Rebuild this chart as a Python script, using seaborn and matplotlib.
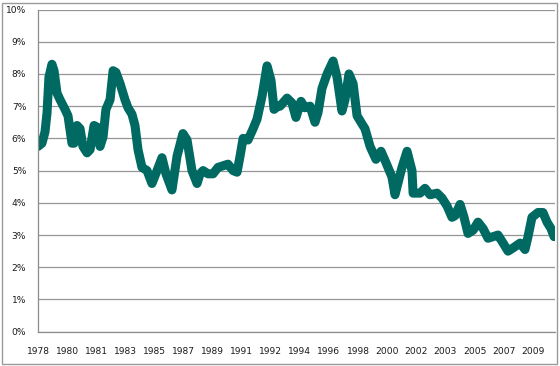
import numpy as np
import pandas as pd
import matplotlib
matplotlib.use("Agg")
import matplotlib.pyplot as plt
import seaborn as sns
from matplotlib.patches import Rectangle

# ---- data ----
years = [1978.17, 1978.42, 1978.61, 1978.74, 1978.86, 1979.05, 1979.18, 1979.37, 1979.56, 1979.87,
         1980.06, 1980.31, 1980.44, 1980.63, 1980.82, 1981.00, 1981.26, 1981.45, 1981.70, 1981.89,
         1982.08, 1982.27, 1982.45, 1982.71, 1982.90, 1983.08, 1983.34, 1983.65, 1983.84, 1984.09,
         1984.28, 1984.47, 1984.72, 1985.04, 1985.35, 1985.67, 1985.98, 1986.23, 1986.61, 1986.93,
         1987.30, 1987.56, 1987.87, 1988.19, 1988.38, 1988.57, 1988.88, 1989.20, 1989.51, 1989.83,
         1990.14, 1990.46, 1990.71, 1990.90, 1991.09, 1991.40, 1991.72, 1991.97, 1992.28, 1992.60,
         1992.85, 1993.04, 1993.29, 1993.42, 1993.86, 1994.17, 1994.42, 1994.74, 1994.99, 1995.31,
         1995.62, 1995.81, 1996.06, 1996.38, 1996.76, 1997.01, 1997.32, 1997.51, 1997.76, 1998.02,
         1998.27, 1998.58, 1998.77, 1999.09, 1999.46, 1999.78, 2000.09, 2000.47, 2000.66, 2001.10,
         2001.42, 2001.73, 2001.80, 2002.24, 2002.55, 2002.87, 2003.31, 2003.62, 2003.94, 2004.25,
         2004.44, 2004.76, 2005.01, 2005.26, 2005.58, 2005.89, 2006.21, 2006.52, 2006.84, 2007.15,
         2007.47, 2007.78, 2008.10, 2008.54, 2008.85, 2009.04, 2009.29, 2009.67, 2009.98, 2010.24,
         2010.49, 2010.68]
rates = [5.75, 5.85, 6.2, 6.8, 7.9, 8.3, 8.1, 7.4, 7.2, 6.9,
         6.7, 5.85, 5.85, 6.4, 6.3, 5.75, 5.55, 5.65, 6.4, 6.35,
         5.75, 6.05, 6.9, 7.2, 8.1, 8.05, 7.7, 7.2, 6.95, 6.75,
         6.4, 5.65, 5.1, 5.0, 4.6, 5.0, 5.4, 4.9, 4.4, 5.45,
         6.15, 5.95, 5.0, 4.6, 4.9, 5.0, 4.9, 4.9, 5.1, 5.15,
         5.2, 5.0, 4.95, 5.45, 6.0, 5.95, 6.3, 6.6, 7.3, 8.25,
         7.8, 6.9, 7.0, 7.0, 7.25, 7.1, 6.65, 7.15, 6.95, 7.0,
         6.5, 6.8, 7.55, 8.0, 8.4, 7.9, 6.85, 7.2, 8.0, 7.7,
         6.7, 6.45, 6.3, 5.75, 5.35, 5.6, 5.25, 4.8, 4.25, 5.1,
         5.6, 5.0, 4.3, 4.3, 4.45, 4.25, 4.3, 4.15, 3.9, 3.55,
         3.6, 3.95, 3.55, 3.05, 3.15, 3.4, 3.2, 2.9, 2.95, 3.0,
         2.75, 2.5, 2.6, 2.75, 2.55, 2.95, 3.55, 3.7, 3.7, 3.4,
         3.2, 2.95]
x_labels = ["1978", "1980", "1981", "1983", "1985", "1987", "1989", "1991", "1992",
            "1994", "1996", "1998", "2000", "2002", "2003", "2005", "2007", "2009"]
y_ticks = [0, 1, 2, 3, 4, 5, 6, 7, 8, 9, 10]

df = pd.DataFrame({"year": years, "rate": rates})

sns.set_style("white")
plt.rcParams["font.family"] = ["DejaVu Sans"]

fig = plt.figure(figsize=(5.6, 3.66), dpi=100)
ax = fig.add_axes([38 / 560, 1 - 331.7 / 366, (555 - 38) / 560, (331.7 - 9.5) / 366])

sns.lineplot(data=df, x="year", y="rate", ax=ax, color="#006a62", linewidth=6.5,
             solid_capstyle="round", solid_joinstyle="round")

x0 = 1978.17
step = 22 / 12
ax.set_xlim(x0, x0 + 32.57)
ax.set_ylim(0, 10)
ax.set_xticks([x0 + i * step for i in range(len(x_labels))])
ax.set_xticklabels(x_labels)
ax.set_yticks(y_ticks)
ax.set_yticklabels([f"{v}%" for v in y_ticks])
ax.set_xlabel("")
ax.set_ylabel("")

ax.grid(axis="y", color="#959595", linewidth=0.9)
ax.grid(axis="x", visible=False)
ax.set_axisbelow(True)
for s in ["top", "right"]:
    ax.spines[s].set_visible(False)
for s in ["left", "bottom"]:
    ax.spines[s].set_color("#8c8c8c")
    ax.spines[s].set_linewidth(0.9)

ax.tick_params(axis="both", direction="out", length=3, width=0.8, color="#8c8c8c",
               labelsize=6.6, labelcolor="#1a1a1a")
ax.tick_params(axis="y", pad=5.5)
ax.tick_params(axis="x", pad=8)

fig.patches.append(Rectangle((2 / 560, 2 / 366), 555 / 560, 361 / 366, transform=fig.transFigure,
                             fill=False, edgecolor="#9a9a9a", linewidth=1.0))

fig.savefig("out.png", dpi=100)
